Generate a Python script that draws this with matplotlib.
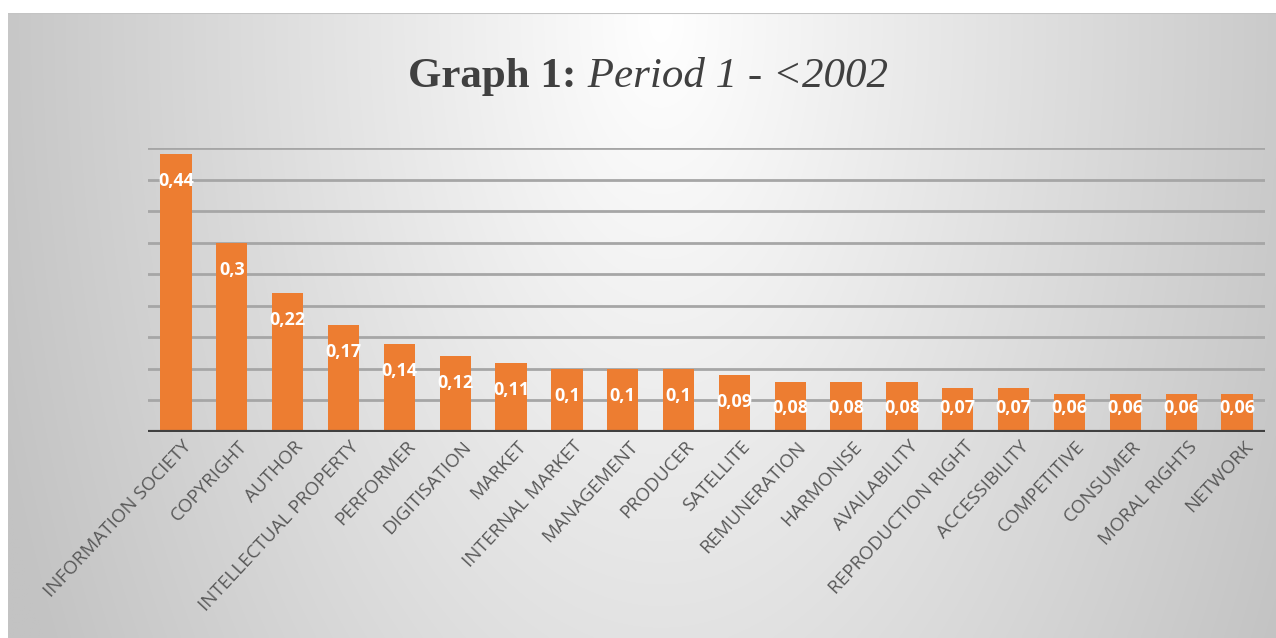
import numpy as np
import matplotlib
matplotlib.use("Agg")
import matplotlib.pyplot as plt
from matplotlib.transforms import ScaledTranslation

categories = ["INFORMATION SOCIETY", "COPYRIGHT", "AUTHOR", "INTELLECTUAL PROPERTY",
              "PERFORMER", "DIGITISATION", "MARKET", "INTERNAL MARKET", "MANAGEMENT",
              "PRODUCER", "SATELLITE", "REMUNERATION", "HARMONISE", "AVAILABILITY",
              "REPRODUCTION RIGHT", "ACCESSIBILITY", "COMPETITIVE", "CONSUMER",
              "MORAL RIGHTS", "NETWORK"]
values = [0.44, 0.30, 0.22, 0.17, 0.14, 0.12, 0.11, 0.10, 0.10, 0.10,
          0.09, 0.08, 0.08, 0.08, 0.07, 0.07, 0.06, 0.06, 0.06, 0.06]
value_labels = ["0,44", "0,3", "0,22", "0,17", "0,14", "0,12", "0,11", "0,1", "0,1", "0,1",
                "0,09", "0,08", "0,08", "0,08", "0,07", "0,07", "0,06", "0,06", "0,06", "0,06"]
gridlines = [0.05, 0.10, 0.15, 0.20, 0.25, 0.30, 0.35, 0.40, 0.45]

W, H = 1276, 638
fig = plt.figure(figsize=(W / 100, H / 100), dpi=100)
fig.patch.set_facecolor("white")

# background panel with radial gradient
bg = fig.add_axes([8 / W, 0, 1 - 8 / W, (H - 13) / H], zorder=0)
ny, nx = 300, 600
yy, xx = np.mgrid[0:ny, 0:nx]
px = xx / nx * (W - 8) + 8
py = yy / ny * (H - 13) + 13
t = np.sqrt(((px - 660) / 700) ** 2 + ((py - 20) / 1300) ** 2)
g = np.clip(255 - 60 * t, 195, 255) / 255.0
img = np.dstack([g, g, g])
bg.imshow(img, aspect="auto", extent=[0, 1, 0, 1], origin="upper", interpolation="bilinear")
bg.set_axis_off()
bg.axhline(1, color="#c4c4c4", lw=1.5)

ax_l, ax_r = 148 / W, 1265 / W
ax_b, ax_t = (H - 432) / H, (H - 148) / H
ax = fig.add_axes([ax_l, ax_b, ax_r - ax_l, ax_t - ax_b], zorder=1)
ax.set_facecolor("none")

x = np.arange(len(categories))
ax.bar(x, values, width=0.56, color="#ED7D31", zorder=3)
for gl in gridlines:
    ax.axhline(gl, color="#a6a6a6", lw=2, zorder=1)
ax.axhline(0, color="#404040", lw=3, zorder=4)

ax.set_xlim(-0.5, len(categories) - 0.5)
ax.set_ylim(0, 0.45)
ax.set_yticks([])
for s in ax.spines.values():
    s.set_visible(False)
ax.set_xticks(x)
ax.set_xticklabels(categories, rotation=47, ha="right", va="top", rotation_mode="anchor",
                   fontsize=13.5, color="#595959", family="Open Sans")
ax.tick_params(axis="x", length=0, pad=4)
shift = ScaledTranslation(6 / 100, 0, fig.dpi_scale_trans)
for lbl in ax.get_xticklabels():
    lbl.set_transform(lbl.get_transform() + shift)

for xi, v, lab in zip(x, values, value_labels):
    ylab = max(v - 0.043, 0.038)
    ax.text(xi, ylab, lab, ha="center", va="center", color="white", fontsize=13,
            fontweight="bold", family="Open Sans", zorder=5)

# title: bold part + italic part
renderer = fig.canvas.get_renderer()
t1 = fig.text(0, 0, "Graph 1:", fontsize=31, fontweight="bold", family="Liberation Serif",
              color="#404040", va="baseline")
t2 = fig.text(0, 0, " Period 1 - <2002", fontsize=31, fontstyle="italic",
              family="Liberation Serif", color="#404040", va="baseline")
w1 = t1.get_window_extent(renderer).width
w2 = t2.get_window_extent(renderer).width
cx = 648
x0 = cx - (w1 + w2) / 2
base_y = H - 87
t1.set_position((x0 / W, base_y / H))
t2.set_position(((x0 + w1) / W, base_y / H))

fig.savefig("out.png", dpi=100)
